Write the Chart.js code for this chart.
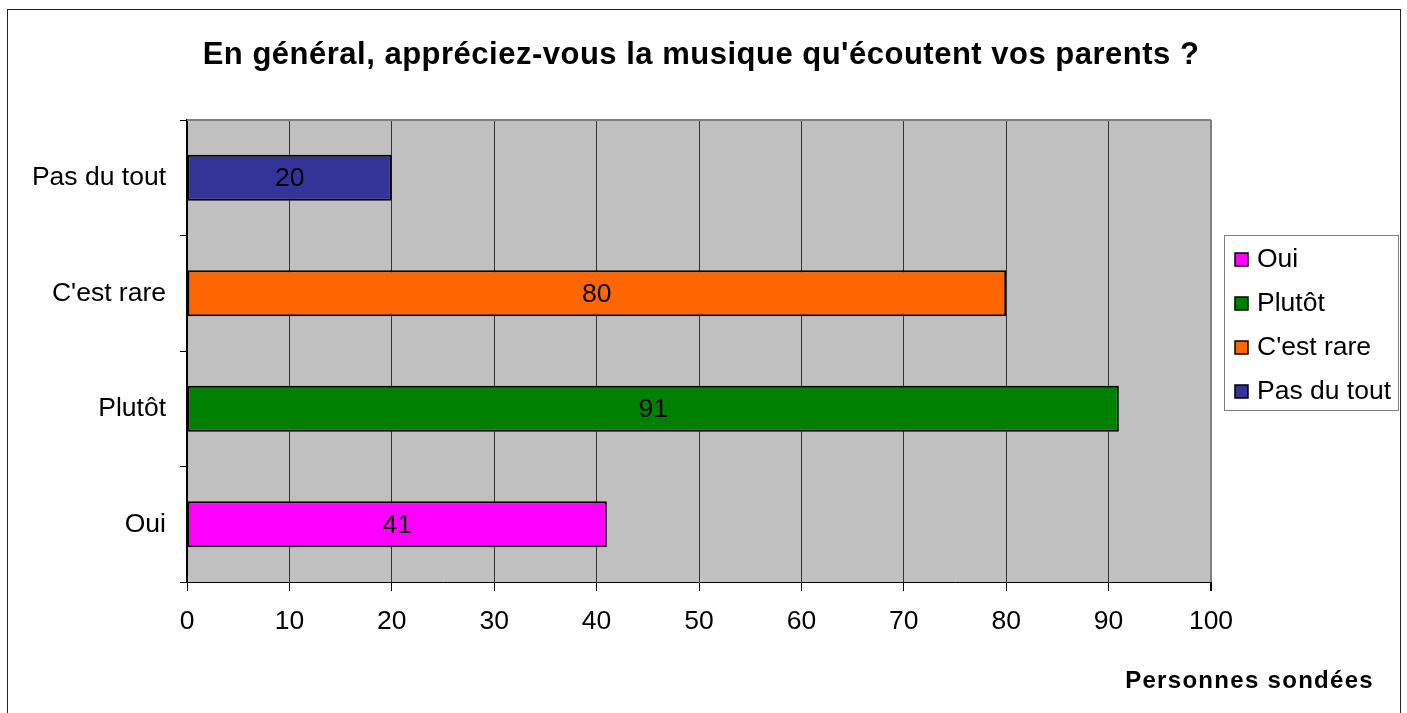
<!DOCTYPE html>
<html>
<head>
<meta charset="utf-8">
<script src="https://cdn.jsdelivr.net/npm/chart.js@4"></script>
<style>
  html, body { margin: 0; padding: 0; background: #fff; }
  #wrap { width: 1407px; height: 713px; }
</style>
</head>
<body>
<div id="wrap"><canvas id="bar-chart"></canvas></div>
<script>
// données
const categories = ["Oui", "Plutôt", "C'est rare", "Pas du tout"];
const valeurs = [41, 91, 80, 20];
const couleurs = ["#FF00FF", "#008000", "#FF6600", "#333399"];
const xTicks = [0, 10, 20, 30, 40, 50, 60, 70, 80, 90, 100];
const titre = "En général, appréciez-vous la musique qu'écoutent vos parents ?";
const titreAxe = "Personnes sondées";

const FONT = "'Liberation Sans', Arial, sans-serif";

// fond gris, cadre, titre, légende, titre d'axe et étiquettes
const habillage = {
  id: "habillage",
  beforeDraw(chart) {
    const ctx = chart.ctx, a = chart.chartArea;
    ctx.save();
    ctx.fillStyle = "#C0C0C0";
    ctx.fillRect(a.left, a.top, a.right - a.left, a.bottom - a.top);
    ctx.restore();
  },
  afterDatasetsDraw(chart) {
    const ctx = chart.ctx, a = chart.chartArea;
    ctx.save();
    // bord haut gris
    ctx.strokeStyle = "#808080";
    ctx.lineWidth = 2;
    ctx.beginPath();
    ctx.moveTo(a.left, a.top);
    ctx.lineTo(a.right, a.top);
    ctx.stroke();

    // valeurs dans les barres
    ctx.fillStyle = "#000";
    ctx.font = "26.5px " + FONT;
    ctx.textAlign = "center";
    ctx.textBaseline = "middle";
    chart.getDatasetMeta(0).data.forEach((bar, i) => {
      const p = bar.getProps(["x", "y", "base"], true);
      ctx.fillText(String(valeurs[i]), (p.x + p.base) / 2, p.y + 1);
    });

    // cadre extérieur
    ctx.strokeStyle = "#222";
    ctx.lineWidth = 1;
    ctx.strokeRect(7.5, 9.5, 1393, 800);

    // titre
    ctx.font = "bold 31px " + FONT;
    ctx.letterSpacing = "0.5px";
    ctx.textAlign = "center";
    ctx.textBaseline = "alphabetic";
    ctx.fillText(titre, 701, 64);
    ctx.letterSpacing = "0px";

    // légende
    ctx.fillStyle = "#fff";
    ctx.fillRect(1225, 236, 174, 175);
    ctx.strokeStyle = "#808080";
    ctx.strokeRect(1224.5, 235.5, 174, 175);
    ctx.font = "26.5px " + FONT;
    ctx.textAlign = "left";
    ctx.textBaseline = "middle";
    categories.forEach((c, i) => {
      const y = 259 + i * 44;
      ctx.fillStyle = couleurs[i];
      ctx.fillRect(1235, y - 6, 13, 13);
      ctx.strokeStyle = "#000";
      ctx.lineWidth = 1.5;
      ctx.strokeRect(1235, y - 6, 13, 13);
      ctx.fillStyle = "#000";
      ctx.fillText(c, 1257, y + 1);
    });

    // titre de l'axe
    ctx.font = "bold 24px " + FONT;
    ctx.letterSpacing = "1.3px";
    ctx.textAlign = "right";
    ctx.fillText(titreAxe, 1374, 681);
    ctx.restore();
  }
};

new Chart(document.getElementById("bar-chart"), {
  type: "bar",
  data: {
    labels: categories,
    datasets: [
      {
        data: valeurs,
        backgroundColor: couleurs,
        borderColor: "#000",
        borderWidth: 2,
        borderSkipped: false,
        barPercentage: 0.4,
        categoryPercentage: 1
      }
    ]
  },
  options: {
    indexAxis: "y",
    responsive: true,
    maintainAspectRatio: false,
    animation: false,
    layout: { padding: { left: 0, right: 196, top: 120, bottom: 0 } },
    plugins: {
      legend: { display: false },
      tooltip: { enabled: false },
      title: { display: false }
    },
    scales: {
      x: {
        min: 0,
        max: 100,
        afterBuildTicks: (s) => { s.ticks = xTicks.map(v => ({ value: v })); },
        afterFit: (s) => { s.height = 131; },
        ticks: {
          color: "#000",
          padding: 15,
          font: { family: FONT, size: 26.5 }
        },
        grid: {
          color: (c) => (c.tick && c.tick.value === 100 ? "#808080" : "#333"),
          lineWidth: (c) => (c.tick && c.tick.value === 100 ? 2 : 1),
          tickColor: "#000",
          tickLength: 9
        },
        border: { display: true, color: "#000", width: 1 }
      },
      y: {
        reverse: true,
        afterFit: (s) => { s.width = 187; },
        ticks: {
          color: "#000",
          padding: 14,
          font: { family: FONT, size: 26.5 }
        },
        grid: {
          offset: true,
          drawOnChartArea: false,
          tickColor: "#000",
          tickLength: 7
        },
        border: { display: true, color: "#000", width: 2 }
      }
    }
  },
  plugins: [habillage]
});
</script>
</body>
</html>
